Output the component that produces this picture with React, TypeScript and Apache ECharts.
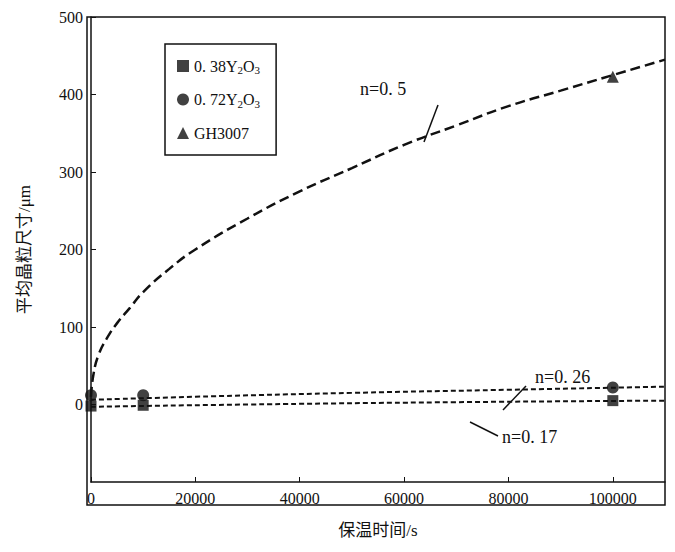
import * as echarts from "echarts";
import { useEffect, useRef } from "react";

// GH3007 fitted curve, n=0.5
const curve05 = [
  [0, 10], [500, 40], [1500, 65], [3000, 85], [5000, 105], [7500, 125], [10000, 145],
  [15000, 175], [20000, 200], [30000, 240], [40000, 275], [50000, 305],
  [60000, 335], [70000, 360], [80000, 385], [90000, 405], [100000, 425], [110000, 445],
];
const curve026 = [[0, 6], [20000, 10], [50000, 15], [80000, 19], [110000, 23]];
const curve017 = [[0, -3], [30000, 0], [70000, 3], [110000, 5]];
const pts038 = [[0, -2], [10000, -1], [100000, 5]];
const pts072 = [[0, 12], [10000, 12], [100000, 22]];
const ptsGH = [[100000, 423]];

const font = "'Liberation Serif', 'Noto Sans CJK SC', serif";

const App = () => {
  const chartRef = useRef(null);

  useEffect(() => {
    if (!chartRef.current) return;
    const chart = echarts.init(chartRef.current, null, { renderer: "svg" });
    const dash = { color: "#111", width: 2.5, type: [10, 5] as any };
    const dashS = { color: "#111", width: 2, type: [5, 3] as any };
    chart.setOption({
      animation: false,
      textStyle: { fontFamily: font, color: "#111" },
      grid: { left: 79, right: 2, top: 9, bottom: 39 },
      legend: {
        orient: "vertical",
        left: 157,
        top: 36,
        padding: [14, 16, 14, 12],
        itemGap: 16,
        itemWidth: 12,
        itemHeight: 12,
        borderColor: "#111",
        borderWidth: 1.5,
        textStyle: { fontSize: 16, fontFamily: font, color: "#111", rich: { s: { fontSize: 11, verticalAlign: "bottom", padding: [8, 0, 0, 0] } } },
        data: ["0.38", "0.72", "GH3007"].map((n) => ({ name: n })),
        formatter: (n: string) => (n === "GH3007" ? n : `0. ${n.slice(2)}Y{s|2}O{s|3}`),
      },
      xAxis: {
        type: "value",
        min: 0,
        max: 110000,
        interval: 20000,
        name: "保温时间/s",
        nameLocation: "middle",
        nameGap: 40,
        nameTextStyle: { fontSize: 17, fontFamily: font },
        axisLine: { onZero: false, lineStyle: { color: "#111", width: 1.5 } },
        axisTick: { inside: true, lineStyle: { color: "#111" } },
        axisLabel: { fontSize: 16, color: "#111", showMaxLabel: false, formatter: (v: number) => String(v) },
        splitLine: { show: false },
      },
      yAxis: {
        type: "value",
        min: -100,
        max: 500,
        interval: 100,
        name: "平均晶粒尺寸/μm",
        nameLocation: "middle",
        nameGap: 58,
        nameTextStyle: { fontSize: 17, fontFamily: font },
        axisLine: { lineStyle: { color: "#111", width: 1.5 } },
        axisTick: { inside: true, lineStyle: { color: "#111" } },
        axisLabel: { fontSize: 16, color: "#111", showMinLabel: false },
        splitLine: { show: false },
      },
      graphic: [
        { type: "rect", shape: { x: 79, y: 9, width: 578, height: 488 }, style: { fill: "none", stroke: "#111", lineWidth: 1.5 } },
        { type: "text", x: 352, y: 72, style: { text: "n=0. 5", font: `18px ${font}`, fill: "#111" } },
        { type: "line", shape: { x1: 430, y1: 97, x2: 416, y2: 134 }, style: { stroke: "#111", lineWidth: 1.5 } },
        { type: "text", x: 527, y: 360, style: { text: "n=0. 26", font: `18px ${font}`, fill: "#111" } },
        { type: "line", shape: { x1: 518, y1: 378, x2: 495, y2: 402 }, style: { stroke: "#111", lineWidth: 1.5 } },
        { type: "text", x: 494, y: 420, style: { text: "n=0. 17", font: `18px ${font}`, fill: "#111" } },
        { type: "line", shape: { x1: 462, y1: 414, x2: 490, y2: 428 }, style: { stroke: "#111", lineWidth: 1.5 } },
      ],
      series: [
        { type: "line", data: curve05, smooth: true, showSymbol: false, lineStyle: dash, silent: true },
        { type: "line", data: curve026, smooth: true, showSymbol: false, lineStyle: dashS, silent: true },
        { type: "line", data: curve017, smooth: true, showSymbol: false, lineStyle: dashS, silent: true },
        { name: "0.38", type: "scatter", data: pts038, symbol: "rect", symbolSize: 11, itemStyle: { color: "#111" } },
        { name: "0.72", type: "scatter", data: pts072, symbol: "circle", symbolSize: 12, itemStyle: { color: "#111" } },
        { name: "GH3007", type: "scatter", data: ptsGH, symbol: "triangle", symbolSize: 12, itemStyle: { color: "#111" } },
      ],
    });
    return () => chart.dispose();
  }, []);

  return <div ref={chartRef} style={{ width: 659, height: 536 }} />;
};

export default App;
